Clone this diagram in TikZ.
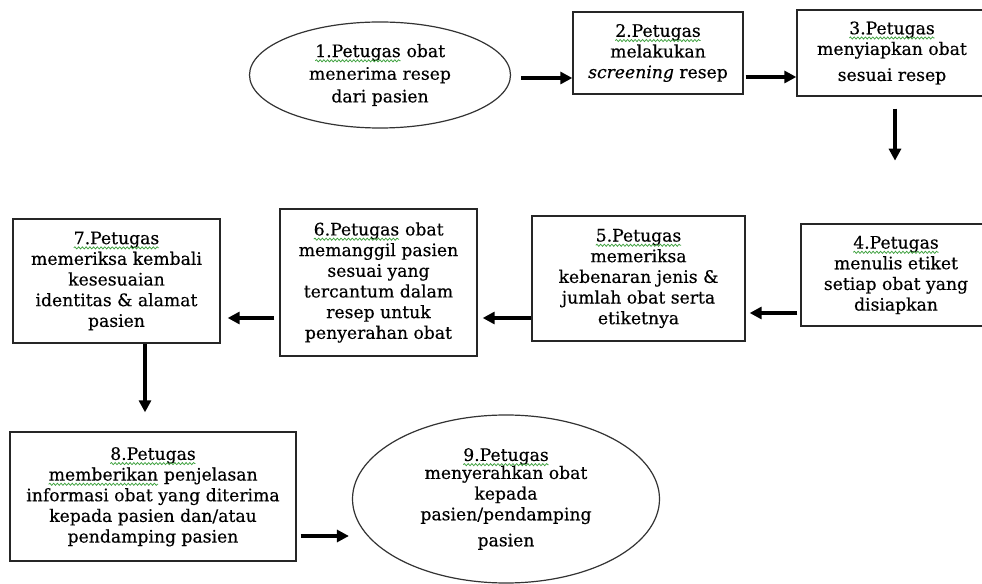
\documentclass[tikz,border=0pt]{standalone}
\usepackage{fontspec}
\setmainfont{DejaVu Serif}[FakeBold=0.4]
\usetikzlibrary{shapes.geometric,arrows.meta,calc,decorations.pathmorphing}
\definecolor{splgreen}{RGB}{60,160,60}
\newcommand\mysize{\fontsize{12.9}{15.5}\selectfont}
\newcommand\spl[1]{\tikz[baseline=(w.base)]{\node[draw=none,fill=none,shape=rectangle,minimum width=0pt,minimum height=0pt,inner sep=0pt,outer sep=0pt](w){#1};\draw[draw=splgreen,line width=0.55pt,decorate,decoration={snake,amplitude=0.8pt,segment length=2.8pt}]([yshift=-2.8pt]w.base west)--([yshift=-2.8pt]w.base east);}}
\begin{document}
\begin{tikzpicture}[x=0.75pt,y=-0.75pt,
  box/.style={draw=black!85,line width=1pt,rectangle,inner sep=0pt,align=center,font=\mysize},
  oval/.style={draw=black!80,line width=0.9pt,ellipse,inner sep=0pt,align=center,font=\mysize},
  arr/.style={line width=2.7pt,-{Triangle[length=9pt,width=9pt]}}]
\path[use as bounding box,fill=white] (0,0) rectangle (982,584);
\clip (0,0) rectangle (982,584);
\node[oval,minimum width=195.75pt,minimum height=79.5pt] (n1) at (380,75)
  {\spl{1.Petugas} obat\\[1.5pt] menerima resep\\[1.5pt] dari pasien};
\node[box,minimum width=127.5pt,minimum height=61.5pt] (n2) at (658,53)
  {\spl{2.Petugas}\\ melakukan\\ \textit{screening} resep};
\node[box,minimum width=142.5pt,minimum height=64.5pt] (n3) at (892,53)
  {\spl{3.Petugas}\\ menyiapkan obat\\[4pt] sesuai resep};
\node[box,minimum width=142.5pt,minimum height=76.5pt] (n4) at (896,275)
  {\spl{4.Petugas}\\ menulis etiket\\ setiap obat yang\\ disiapkan};
\node[box,minimum width=159.75pt,minimum height=93.75pt] (n5) at (638.5,278.5)
  {\spl{5.Petugas}\\ memeriksa\\ kebenaran jenis \&\\ jumlah obat serta\\ etiketnya};
\node[box,minimum width=147.75pt,minimum height=110.25pt] (n6) at (378.5,282.5)
  {\spl{6.Petugas} obat\\ memanggil pasien\\ sesuai yang\\ tercantum dalam\\ resep untuk\\ penyerahan obat};
\node[box,minimum width=155.25pt,minimum height=93pt] (n7) at (116.5,281)
  {\spl{7.Petugas}\\ memeriksa kembali\\ kesesuaian\\ identitas \& alamat\\ pasien};
\node[box,minimum width=214.5pt,minimum height=96.75pt] (n8) at (153,496.5)
  {\spl{8.Petugas}\\ \spl{memberikan} penjelasan\\ informasi obat yang diterima\\ kepada pasien dan/atau\\ pendamping pasien\\[-13pt]};
\node[oval,minimum width=230.25pt,minimum height=126pt] (n9) at (506,499)
  {\spl{9.Petugas}\\[-2pt] menyerahkan obat\\ kepada\\ pasien/pendamping\\[4pt] pasien};
\draw[arr] ($(n1.east)+(10,3)$) -- ($(n2.west)+(0,25)$);
\draw[arr] ($(n2.east)+(2,24)$) -- ($(n3.west)+(0,24)$);
\draw[arr] ($(n3.south)+(3,12)$) -- ($(n3.south)+(3,64)$);
\draw[arr] ($(n4.west)+(-3,38)$) -- ($(n5.east)+(4,34.5)$);
\draw[arr] ($(n5.west)+(0,39.5)$) -- ($(n6.east)+(5,35.5)$);
\draw[arr] ($(n6.west)+(-5,35.5)$) -- ($(n7.east)+(7,37)$);
\draw[arr] ($(n7.south)+(28.5,0)$) -- ($(n8.north)+(-8,-19)$);
\draw[arr] ($(n8.east)+(4,39.5)$) -- ($(n9.west)+(-3,37)$);
\end{tikzpicture}
\end{document}
